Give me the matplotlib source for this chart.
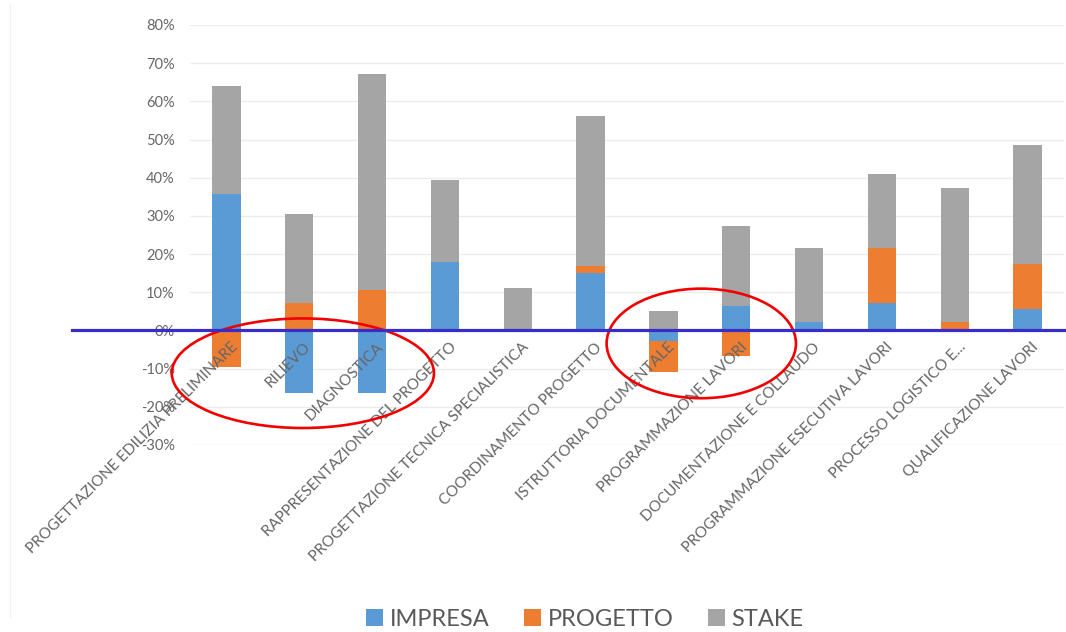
import numpy as np
import matplotlib.pyplot as plt
from matplotlib.patches import Ellipse
from matplotlib.lines import Line2D
from matplotlib.ticker import FuncFormatter

plt.rcParams['font.family'] = ['Lato', 'DejaVu Sans']

# Attivita' e quote percentuali per gruppo
categories = [
    "PROGETTAZIONE EDILIZIA PRELIMINARE",
    "RILIEVO",
    "DIAGNOSTICA",
    "RAPPRESENTAZIONE DEL PROGETTO",
    "PROGETTAZIONE TECNICA SPECIALISTICA",
    "COORDINAMENTO PROGETTO",
    "ISTRUTTORIA DOCUMENTALE",
    "PROGRAMMAZIONE LAVORI",
    "DOCUMENTAZIONE E COLLAUDO",
    "PROGRAMMAZIONE ESECUTIVA LAVORI",
    "PROCESSO LOGISTICO E...",
    "QUALIFICAZIONE LAVORI",
]
impresa = [35.8, -16.4, -16.4, 18.0, 0.0, 15.0, -2.8, 6.3, 2.2, 7.2, 0.0, 5.7]
progetto = [-9.7, 7.3, 10.6, 0.0, 0.0, 1.8, -8.1, -6.8, 0.0, 14.5, 2.3, 11.7]
stake = [28.2, 23.3, 56.6, 21.4, 11.0, 39.3, 5.2, 21.1, 19.4, 19.4, 35.1, 31.2]

series = [("IMPRESA", impresa, "#5b9bd5"),
          ("PROGETTO", progetto, "#ed7d31"),
          ("STAKE", stake, "#a5a5a5")]

# zone evidenziate: (centro x, centro y, larghezza, altezza) in unita' dati
highlights = [(1.05, -11.2, 3.6, 28.7), (6.52, -3.4, 2.6, 28.7)]

fig = plt.figure(figsize=(10.66, 6.32), dpi=100)
ax = fig.add_axes([190 / 1066, 1 - 445 / 632, 874 / 1066, 420 / 632])

x = np.arange(len(categories))
pos_base = np.zeros(len(categories))
neg_base = np.zeros(len(categories))
for name, vals, color in series:
    vals = np.array(vals)
    bottom = np.where(vals >= 0, pos_base, neg_base)
    ax.bar(x, vals, width=0.39, bottom=bottom, color=color, label=name, zorder=2)
    pos_base += np.clip(vals, 0, None)
    neg_base += np.clip(vals, None, 0)

ax.set_xlim(-0.5, len(categories) - 0.5)
ax.set_ylim(-30, 80)
ax.set_yticks(np.arange(-30, 81, 10))
ax.yaxis.set_major_formatter(FuncFormatter(lambda v, p: f"{v:.0f}%"))
ax.tick_params(axis='y', length=0, pad=11, labelsize=10.5, labelcolor='#666666')
ax.set_xticks([])
ax.grid(axis='y', color='#ececec', linewidth=1, zorder=0)
for s in ax.spines.values():
    s.set_visible(False)

# etichette categorie ruotate lungo l'asse dello zero
for i, lab in enumerate(categories):
    ax.annotate(lab, xy=(i, 0), xytext=(3, -7), textcoords='offset points',
                rotation=45, rotation_mode='anchor', ha='right', va='top',
                fontsize=11, color='#666666', zorder=4)

# linea dello zero prolungata a sinistra
fig.add_artist(Line2D([72 / 1066, 1.0], [1 - 330 / 632] * 2, color='#3a2cc8',
                      linewidth=2.3, zorder=5))

for cx, cy, w, h in highlights:
    ax.add_patch(Ellipse((cx, cy), w, h, fill=False, edgecolor='#f20000',
                         linewidth=1.9, zorder=6, clip_on=False))

# bordo sinistro del riquadro
fig.add_artist(Line2D([10 / 1066] * 2, [1 - 617 / 632, 1 - 5 / 632],
                      color='#f0f0f0', linewidth=1))

fig.legend(loc='center', bbox_to_anchor=(585 / 1066, 1 - 619 / 632), ncol=3,
           frameon=False, fontsize=17, handlelength=0.72, handleheight=0.72,
           handletextpad=0.28, columnspacing=1.45, borderpad=0,
           labelcolor='#595959')

fig.savefig('out.png', dpi=100)
